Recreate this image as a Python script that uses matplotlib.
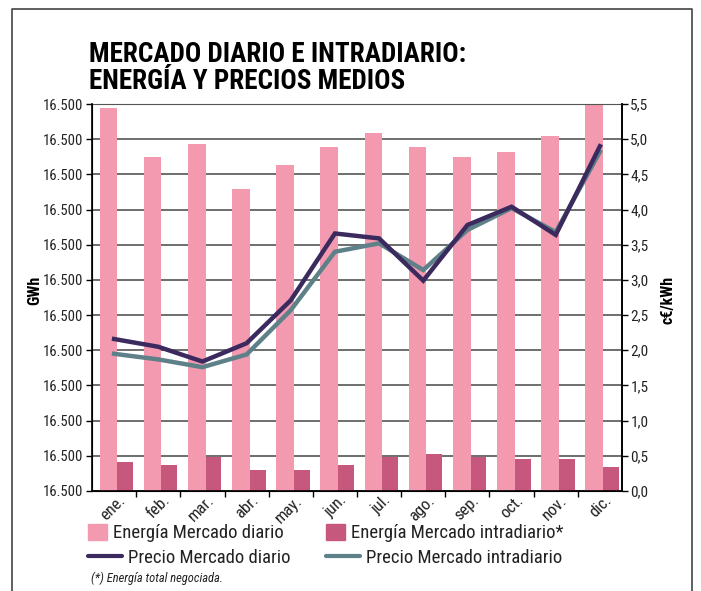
import matplotlib.pyplot as plt
from matplotlib.lines import Line2D
from matplotlib.patches import Patch
from matplotlib.transforms import ScaledTranslation
import numpy as np

plt.rcParams['font.family'] = ['Roboto Condensed', 'IBM Plex Sans Condensed', 'DejaVu Sans']

months = ['ene.', 'feb.', 'mar.', 'abr.', 'may.', 'jun.', 'jul.', 'ago.', 'sep.', 'oct.', 'nov.', 'dic.']
energia_diario = [5.45, 4.74, 4.93, 4.29, 4.63, 4.89, 5.09, 4.89, 4.74, 4.82, 5.04, 5.50]
energia_intradiario = [0.41, 0.37, 0.49, 0.30, 0.30, 0.37, 0.49, 0.52, 0.49, 0.45, 0.45, 0.34]
precio_diario = [2.16, 2.05, 1.84, 2.10, 2.71, 3.66, 3.59, 2.99, 3.78, 4.04, 3.64, 4.90]
precio_intradiario = [1.95, 1.87, 1.76, 1.94, 2.57, 3.40, 3.52, 3.14, 3.71, 4.02, 3.68, 4.82]
left_labels = ['16.500'] * 12

PINK = '#f49ab0'
ROSE = '#c6587e'
NAVY = '#3b2a5e'
TEAL = '#5e8088'
TXT = '#222222'
W, H = 701, 591

fig = plt.figure(figsize=(W / 100, H / 100), dpi=100)
ax = fig.add_axes([92 / W, 100 / H, 530 / W, 387 / H])

x = np.arange(len(months))
ax.bar(x - 0.33, energia_diario, width=0.40, align='edge', color=PINK, zorder=2)
ax.bar(x + 0.07, energia_intradiario, width=0.36, align='edge', color=ROSE, zorder=2)
ax.plot(x, precio_intradiario, color=TEAL, lw=3.2, zorder=3, solid_joinstyle='miter')
ax.plot(x, precio_diario, color=NAVY, lw=3.2, zorder=4, solid_joinstyle='miter')

ax.set_xlim(-0.5, len(months) - 0.5)
ax.set_ylim(0, 5.5)
yt = np.arange(0, 5.51, 0.5)
ax.set_yticks(yt)
ax.set_yticklabels(left_labels)
ax.grid(axis='y', color='#555555', lw=1.2)
ax.set_axisbelow(True)

# month names sit slanted under each pair of bars, ticks mark the group edges
ax.set_xticks(x)
ax.set_xticklabels(months, rotation=45, ha='right', va='center', rotation_mode='anchor',
                   fontsize=12, color=TXT)
ax.set_xticks(x[:-1] + 0.5, minor=True)
ax.tick_params(axis='x', which='major', length=0, pad=5)
ax.tick_params(axis='x', which='minor', length=4, width=1, color='black')
ax.tick_params(axis='y', length=4, width=1, labelsize=10.5, pad=2, labelcolor=TXT)
for lbl in ax.get_xticklabels():
    lbl.set_transform(lbl.get_transform() + ScaledTranslation(0.09, 0, fig.dpi_scale_trans))

for side in ['left', 'bottom', 'right']:
    ax.spines[side].set_linewidth(1.2)
ax.spines['top'].set_color('#555555')

twin = ax.twinx()
twin.set_ylim(0, 5.5)
twin.set_yticks(yt)
twin.set_yticklabels([f'{v:.1f}'.replace('.', ',') for v in yt])
twin.tick_params(axis='y', length=4, width=1, labelsize=11, pad=2, labelcolor=TXT)
twin.spines['right'].set_linewidth(1.2)
twin.spines['top'].set_visible(False)

fig.text(89 / W, 1 - 62 / H, 'MERCADO DIARIO E INTRADIARIO:', fontsize=19.5, weight='bold', va='baseline')
fig.text(89 / W, 1 - 89 / H, 'ENERGÍA Y PRECIOS MEDIOS', fontsize=19.5, weight='bold', va='baseline')
fig.text(35 / W, 1 - 290 / H, 'GWh', rotation=90, weight='bold', fontsize=11.5, ha='center', va='center')
fig.text(668 / W, 1 - 300 / H, 'c€/kWh', rotation=90, weight='bold', fontsize=11.5, ha='center', va='center')


def legend_item(handle, label, px, py, hlen):
    fig.legend([handle], [label], loc='center left', bbox_to_anchor=(px / W, 1 - py / H),
               frameon=False, fontsize=13.5, handlelength=hlen, handleheight=1.0,
               handletextpad=0.35, borderpad=0, borderaxespad=0, labelcolor=TXT)


legend_item(Patch(color=PINK), 'Energía Mercado diario', 88, 533, 1.0)
legend_item(Patch(color=ROSE), 'Energía Mercado intradiario*', 326, 533, 1.0)
legend_item(Line2D([], [], color=NAVY, lw=3, solid_capstyle='round'), 'Precio Mercado diario', 88, 558, 1.8)
legend_item(Line2D([], [], color=TEAL, lw=3, solid_capstyle='round'), 'Precio Mercado intradiario', 326, 558, 1.8)

fig.text(91 / W, 1 - 578 / H, '(*) Energía total negociada.', style='italic', fontsize=9, va='center', color=TXT)

# frame around the chart, open at the bottom
fig.add_artist(Line2D([12 / W, 12 / W, 692 / W, 692 / W], [0, 1 - 9 / H, 1 - 9 / H, 0],
                      transform=fig.transFigure, color='#444444', lw=1.2))

fig.savefig('out.png', dpi=100)
